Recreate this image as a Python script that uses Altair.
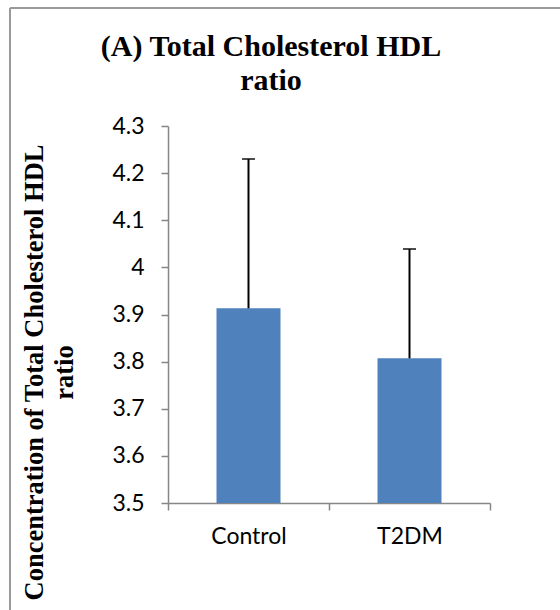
import altair as alt
import pandas as pd

# Group means with one-sided standard deviation bars
groups = ["Control", "T2DM"]
means = [3.913, 3.807]
sds = [0.317, 0.232]

y_ticks = [3.5, 3.6, 3.7, 3.8, 3.9, 4.0, 4.1, 4.2, 4.3]
axis_min = 3.5
axis_max = 4.3

df = pd.DataFrame({
    "group": groups,
    "mean": means,
    "upper": [m + s for m, s in zip(means, sds)],
})

AXIS_GREY = "#868686"
BAR_BLUE = "#4f81bd"

x_enc = alt.X(
    "group:N",
    sort=groups,
    scale=alt.Scale(paddingInner=0, paddingOuter=0),
    axis=alt.Axis(
        title=None,
        labelAngle=0,
        tickBand="extent",
        labelFont="Lato",
        labelFontSize=23,
        labelColor="black",
        labelPadding=15,
        domainColor=AXIS_GREY,
        domainWidth=1.5,
        tickColor=AXIS_GREY,
        tickWidth=1.5,
        tickSize=7,
    ),
)

y_scale = alt.Scale(domain=[axis_min, axis_max], zero=False, nice=False)

bars = alt.Chart(df).mark_bar(size=64, color=BAR_BLUE).encode(
    x=x_enc,
    y=alt.Y(
        "mean:Q",
        scale=y_scale,
        axis=alt.Axis(
            values=y_ticks,
            format="~g",
            grid=False,
            title=["Concentration of Total Cholesterol HDL", "ratio"],
            titleFont="Liberation Serif",
            titleFontSize=26.5,
            titleFontWeight="bold",
            titleColor="black",
            titleAngle=270,
            titleAlign="center",
            titleBaseline="alphabetic",
            titleLineHeight=30,
            titleX=-126,
            titleY=246,
            labelFont="Lato",
            labelFontSize=23,
            labelColor="black",
            labelPadding=17,
            domainColor=AXIS_GREY,
            domainWidth=1.5,
            tickColor=AXIS_GREY,
            tickWidth=1.5,
            tickSize=7,
        ),
    ),
    y2=alt.datum(axis_min),
)

err_line = alt.Chart(df).mark_rule(color="black", strokeWidth=2).encode(
    x=alt.X("group:N", sort=groups),
    y=alt.Y("mean:Q", scale=y_scale),
    y2="upper:Q",
)

err_cap = alt.Chart(df).mark_tick(
    color="black", size=13, thickness=2, orient="horizontal"
).encode(
    x=alt.X("group:N", sort=groups),
    y=alt.Y("upper:Q", scale=y_scale),
)

# Grey frame along the top and left edges of the figure
frame_data = alt.Data(values=[{"k": 0}])
frame_left = alt.Chart(frame_data).mark_rule(color="#9a9a9a", strokeWidth=2).encode(
    x=alt.value(-158), y=alt.value(-118), y2=alt.value(490)
)
frame_top = alt.Chart(frame_data).mark_rule(color="#9a9a9a", strokeWidth=2).encode(
    x=alt.value(-158), x2=alt.value(400), y=alt.value(-118)
)

chart = (
    alt.layer(bars, err_line, err_cap, frame_left, frame_top)
    .properties(
        width=322,
        height=377,
        autosize=alt.AutoSizeParams(type="none"),
        padding={"left": 168, "top": 126, "right": 70, "bottom": 107},
        title=alt.TitleParams(
            text=["(A) Total Cholesterol HDL", "ratio"],
            font="Liberation Serif",
            fontSize=30,
            fontWeight="bold",
            color="black",
            anchor="middle",
            lineHeight=34,
            dx=-58,
            dy=89,
            offset=0,
        ),
        background="white",
    )
    .configure_view(stroke=None)
)

chart.save("out.html", embed_options={"renderer": "svg", "actions": False})
